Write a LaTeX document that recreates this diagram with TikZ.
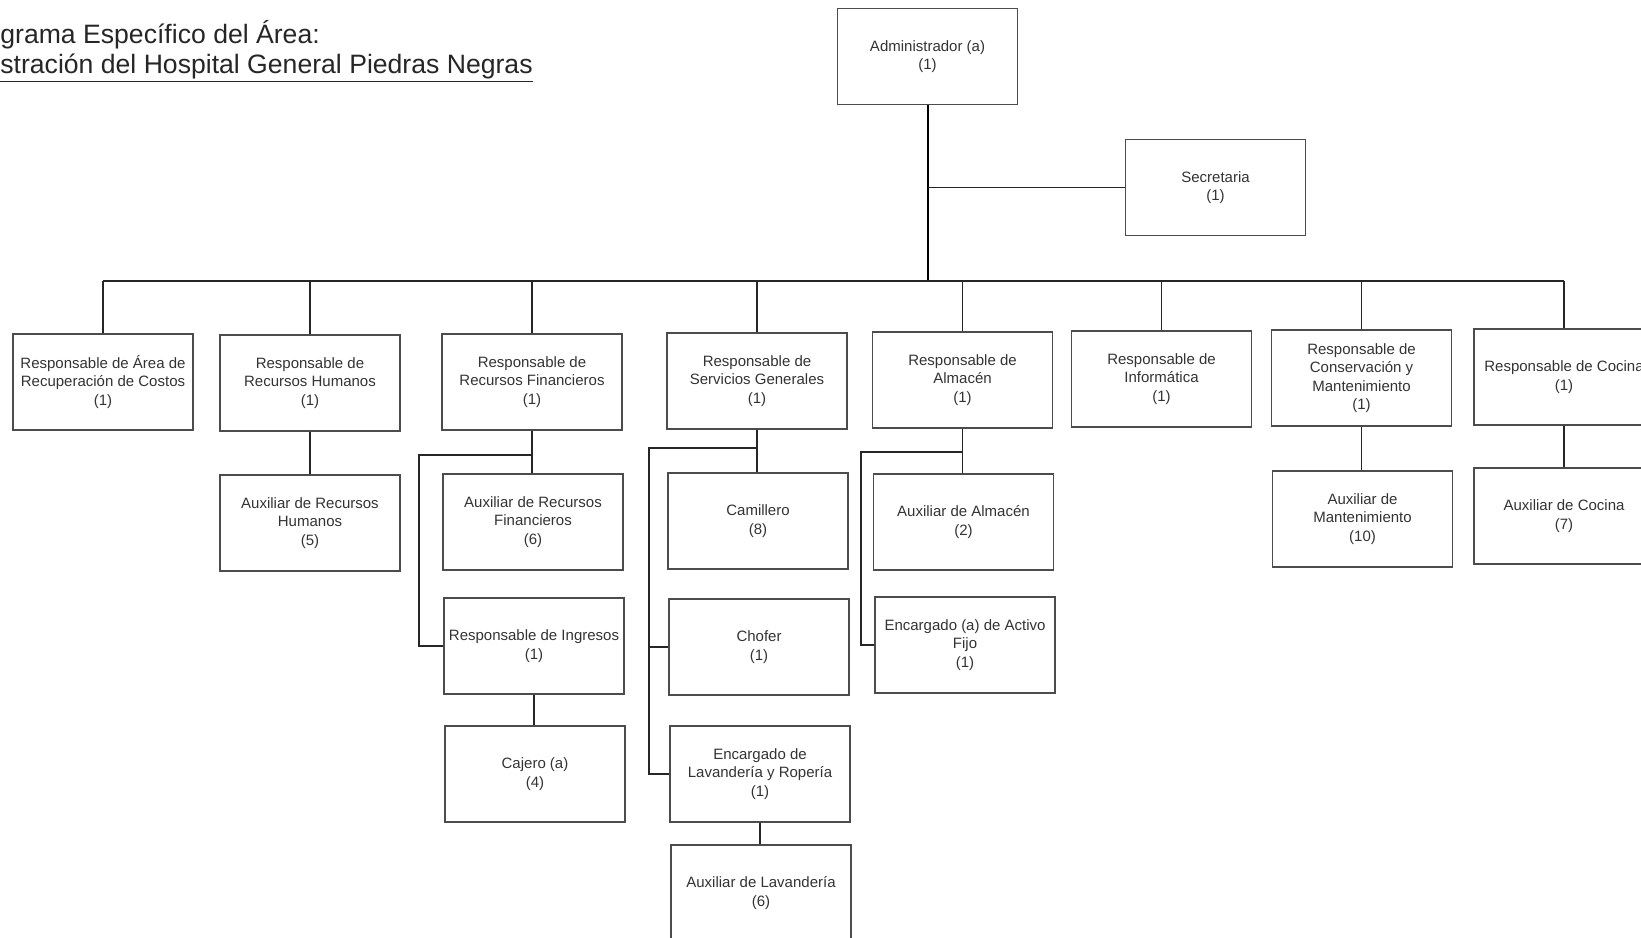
\documentclass[tikz,border=0pt]{standalone}
\usepackage{fontspec}
\setmainfont{Liberation Sans}
\usetikzlibrary{positioning}
\tikzset{puesto/.style={draw=black!70, line width=0.6pt, minimum width=90pt, minimum height=48pt,
                        inner sep=0pt, align=center, text=black!80, font=\fontsize{7.5}{9.2}\selectfont},
         liga/.style={black!85, line width=0.55pt},
         tronco/.style={black, line width=1pt},
         titulo/.style={inner sep=0pt, anchor=base west, text=black!85, font=\fontsize{13.3}{14.5}\selectfont}}

\begin{document}
\begin{tikzpicture}[x=0.5pt, y=-0.5pt]
  \useasboundingbox (0,0) rectangle (1641,937);
  \clip (0,0) rectangle (1641,937);
  % titulo
  \node[titulo] (tit1) at (0,43) {grama Específico del Área:};
  \node[titulo] (tit2) at (0,73) {\underline{stración del Hospital General Piedras Negras}};
  % direccion
  \node[puesto] (admin) at (927.5,56.5) {Administrador (a)\\(1)};
  \node[puesto] (secre) at (1215.5,187.5) {Secretaria\\(1)};
  \coordinate (bus) at (0,281);
  % primer nivel
  \node[puesto] (recup) at (103,382) {Responsable de Área de\\Recuperación de Costos\\(1)};
  \node[puesto] (rh)    at (310,383) {Responsable de\\Recursos Humanos\\(1)};
  \node[puesto] (rf)    at (532,382) {Responsable de\\Recursos Financieros\\(1)};
  \node[puesto] (sg)    at (757,381) {Responsable de\\Servicios Generales\\(1)};
  \node[puesto] (alm)   at (962.5,380) {Responsable de\\Almacén\\(1)};
  \node[puesto] (inf)   at (1161.5,379) {Responsable de\\Informática\\(1)};
  \node[puesto] (cons)  at (1361.5,378) {Responsable de\\Conservación y\\Mantenimiento\\(1)};
  \node[puesto] (coc)   at (1564,377) {Responsable de Cocina\\(1)};
  % segundo nivel
  \node[puesto] (auxrh)     at (310,523) {Auxiliar de Recursos\\Humanos\\(5)};
  \node[puesto] (auxrf)     at (533,522) {Auxiliar de Recursos\\Financieros\\(6)};
  \node[puesto] (ingresos)  at (534,646) {Responsable de Ingresos\\(1)};
  \node[puesto] (cajero)    at (535,774) {Cajero (a)\\(4)};
  \node[puesto] (camillero) at (758,521) {Camillero\\(8)};
  \node[puesto] (chofer)    at (759,647) {Chofer\\(1)};
  \node[puesto] (enclav)    at (760,774) {Encargado de\\Lavandería y Ropería\\(1)};
  \node[puesto] (auxlav)    at (761,893) {Auxiliar de Lavandería\\(6)};
  \node[puesto] (auxalm)    at (963.5,522) {Auxiliar de Almacén\\(2)};
  \node[puesto] (activo)    at (965,645) {Encargado (a) de Activo\\Fijo\\(1)};
  \node[puesto] (auxmant)   at (1362.5,519) {Auxiliar de\\Mantenimiento\\(10)};
  \node[puesto] (auxcoc)    at (1564,516) {Auxiliar de Cocina\\(7)};
  % lineas
  \draw[tronco] (admin.south) -- (admin.south |- bus);
  \draw[liga] (admin.south |- secre.west) -- (secre.west);
  \draw[liga] (recup.north |- bus) -- (coc.north |- bus);
  \foreach \p in {recup,rh,rf,sg,alm,inf,cons,coc}
    \draw[liga] (\p.north |- bus) -- (\p.north);
  \draw[liga] (rh.south) -- (rh.south |- auxrh.north);
  \coordinate (rfbrazo) at (419,455);
  \draw[liga] (rf.south) -- (rf.south |- auxrf.north);
  \draw[liga] (rf.south |- rfbrazo) -- (rfbrazo) |- (ingresos.west);
  \draw[liga] (ingresos.south) -- (ingresos.south |- cajero.north);
  \coordinate (sgbrazo) at (649,448);
  \draw[liga] (sg.south) -- (sg.south |- camillero.north);
  \draw[liga] (sg.south |- sgbrazo) -- (sgbrazo) |- (enclav.west);
  \draw[liga] (sgbrazo |- chofer.west) -- (chofer.west);
  \draw[liga] (enclav.south) -- (enclav.south |- auxlav.north);
  \coordinate (almbrazo) at (861,452);
  \draw[liga] (alm.south) -- (alm.south |- auxalm.north);
  \draw[liga] (alm.south |- almbrazo) -- (almbrazo) |- (activo.west);
  \draw[liga] (cons.south) -- (cons.south |- auxmant.north);
  \draw[liga] (coc.south) -- (coc.south |- auxcoc.north);
\end{tikzpicture}
\end{document}
